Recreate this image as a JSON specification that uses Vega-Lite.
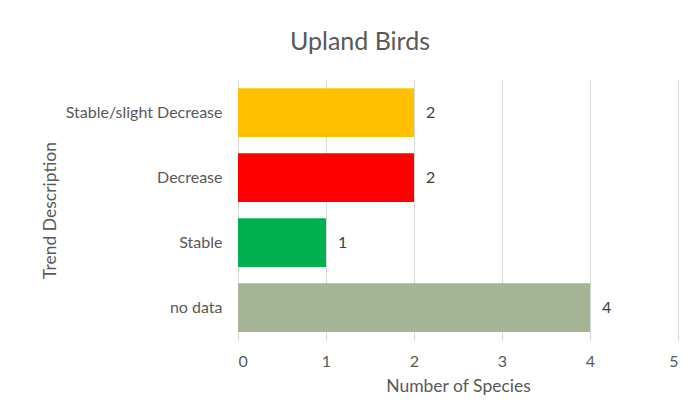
{
  "$schema": "https://vega.github.io/schema/vega-lite/v6.json",
  "width": 440,
  "height": 260,
  "autosize": "none",
  "padding": {"left": 238, "top": 80, "right": 16, "bottom": 78},
  "background": "white",
  "title": {"text": "Upland Birds", "fontSize": 25, "font": "Lato", "fontWeight": "normal", "color": "#595959", "anchor": "middle", "dx": -98, "offset": 25},
  "data": {"values": [
    {"trend": "Stable/slight Decrease", "count": 2},
    {"trend": "Decrease", "count": 2},
    {"trend": "Stable", "count": 1},
    {"trend": "no data", "count": 4}
  ]},
  "encoding": {
    "y": {"field": "trend", "type": "nominal", "sort": null,
      "scale": {"paddingInner": 0.25, "paddingOuter": 0.125},
      "title": "Trend Description",
      "axis": {"domain": false, "ticks": false, "labelPadding": 16, "labelFont": "Lato", "labelFontSize": 16, "labelColor": "#595959", "titleFont": "Lato", "titleFontSize": 17.5, "titleFontWeight": "normal", "titleColor": "#595959", "titlePadding": 6}},
    "x": {"field": "count", "type": "quantitative",
      "scale": {"domain": [0, 5]},
      "title": "Number of Species",
      "axis": {"values": [0, 1, 2, 3, 4, 5], "format": "d", "domain": false, "ticks": false, "labelPadding": 13, "labelFont": "Lato", "labelFontSize": 16, "labelColor": "#595959", "gridColor": "#D9D9D9", "gridWidth": 1, "titleFont": "Lato", "titleFontSize": 17.5, "titleFontWeight": "normal", "titleColor": "#595959", "titlePadding": 8}}
  },
  "layer": [
    {"mark": {"type": "bar"},
     "encoding": {"color": {"field": "trend", "type": "nominal", "legend": null,
       "scale": {"domain": ["Stable/slight Decrease", "Decrease", "Stable", "no data"], "range": ["#FFC000", "#FF0000", "#00B050", "#A4B494"]}}}},
    {"mark": {"type": "text", "align": "left", "dx": 12, "font": "Lato", "fontSize": 16, "color": "#404040"},
     "encoding": {"text": {"field": "count", "type": "quantitative"}}}
  ],
  "config": {"view": {"stroke": null}}
}
